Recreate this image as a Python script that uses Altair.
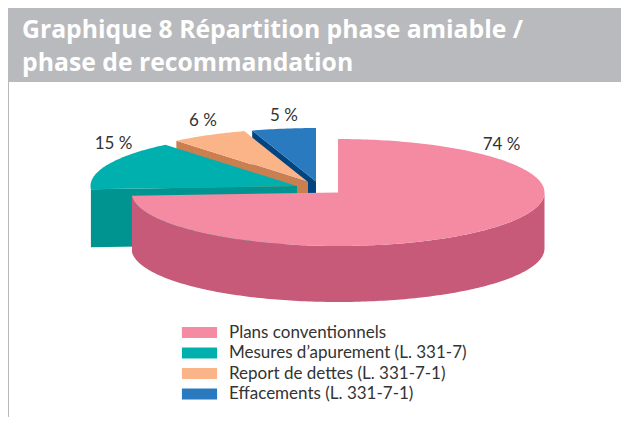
import math
import altair as alt

# ---- data ----
categories = ["Plans conventionnels", "Mesures d\u2019apurement (L. 331-7)",
              "Report de dettes (L. 331-7-1)", "Effacements (L. 331-7-1)"]
values = [74, 15, 6, 5]
labels = ["74 %", "15 %", "6 %", "5 %"]
top_colors = ["#F48BA3", "#00B0AE", "#FBB488", "#2A7ABF"]
wall_colors = ["#C65A78", "#009490", "#CB7F50", "#00457F"]
title_lines = ["Graphique 8 R\u00e9partition phase amiable /", "phase de recommandation"]

# ---- layout (page pixels, minus the 8px page margin) ----
M = 8
W, H = 613, 409
RX, RY = 206.5, 53.5
DEPTH = [56, 58, 57, 57]
apex = [(338, 192.5), (297, 186), (308, 182), (316, 181.5)]
label_pos = [(501.5, 144.5), (113.5, 144), (203, 121), (284, 116)]


def pt(c, deg, dy=0):
    a = math.radians(deg)
    return [c[0] + RX * math.sin(a) - M, c[1] - RY * math.cos(a) + dy - M]


def arc(c, a0, a1, dy=0):
    n = max(2, int(abs(a1 - a0)))
    return [pt(c, a0 + (a1 - a0) * i / n, dy) for i in range(n + 1)]


def feature(part, ring):
    ring = ring + [ring[0]]
    return {"type": "Feature", "properties": {"part": part},
            "geometry": {"type": "Polygon", "coordinates": [ring]}}


starts = []
run = 0
for v in values:
    starts.append(run)
    run += v

features = []
for i in [3, 2, 1, 0]:
    a0 = starts[i] * 3.6
    a1 = (starts[i] + values[i]) * 3.6
    c = apex[i]
    d = DEPTH[i]
    cc = [c[0] - M, c[1] - M]
    wall_name = categories[i] + " (paroi)"
    if i == 0:
        features.append(feature(wall_name, arc(c, 90, a1) + arc(c, a1, 90, d)))
    else:
        e = pt(c, a0)
        features.append(feature(wall_name, [cc, e, [e[0], e[1] + d], [cc[0], cc[1] + d]]))
    features.append(feature(categories[i], [cc] + arc(c, a0, a1)))

domain = categories + [c + " (paroi)" for c in categories]
rng = top_colors + wall_colors

pie = (
    alt.Chart(alt.Data(values=features))
    .mark_geoshape(strokeWidth=0, stroke="transparent")
    .encode(
        color=alt.Color(
            "properties.part:N",
            scale=alt.Scale(domain=domain, range=rng),
            legend=alt.Legend(
                values=categories,
                title=None,
                orient="none",
                legendX=183,
                legendY=316,
                symbolType="M-2.93,-0.93H2.93V0.93H-2.93Z",
                symbolSize=144,
                symbolStrokeWidth=0,
                symbolOpacity=1,
                labelOffset=21,
                labelFont="Lato",
                labelFontSize=17,
                labelColor="#333333",
                labelLimit=320,
                rowPadding=2.5,
                padding=0,
            ),
        )
    )
    .project(type="identity", scale=1, translate=[0, 0])
)

band = (
    alt.Chart(alt.Data(values=[{}]))
    .mark_rect(color="#B9BABD")
    .encode(x=alt.value(0), x2=alt.value(W), y=alt.value(0), y2=alt.value(74))
)
side = (
    alt.Chart(alt.Data(values=[{}]))
    .mark_rect(color="#B9BABD")
    .encode(x=alt.value(0), x2=alt.value(1), y=alt.value(74), y2=alt.value(H))
)

title_layers = [
    alt.Chart(alt.Data(values=[{}]))
    .mark_text(text=t, font="Open Sans", fontWeight="bold", fontSize=24.75, color="white",
               align="left", baseline="alphabetic")
    .encode(x=alt.value(14), y=alt.value(y))
    for t, y in zip(title_lines, [30, 63])
]

label_layers = [
    alt.Chart(alt.Data(values=[{}]))
    .mark_text(text=t, font="Lato", fontSize=17, color="#333333", align="center", baseline="middle")
    .encode(x=alt.value(p[0] - M), y=alt.value(p[1] - M))
    for t, p in zip(labels, label_pos)
]

chart = alt.layer(band, side, pie, *title_layers, *label_layers).properties(
    width=W, height=H, padding=0
).configure_view(stroke=None)

chart.save("out.html", embed_options={"renderer": "svg", "actions": False})
